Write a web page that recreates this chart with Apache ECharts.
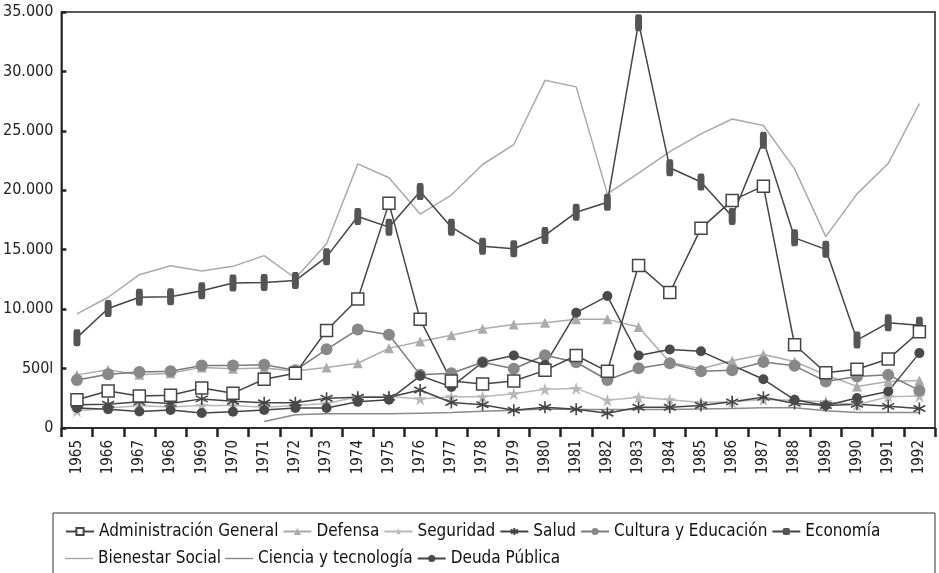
<!DOCTYPE html>
<html>
<head>
<meta charset="utf-8">
<script src="https://cdn.jsdelivr.net/npm/echarts@6/dist/echarts.min.js"></script>
<style>
  html, body { margin: 0; padding: 0; background: #fff; }
  #container { width: 939px; height: 573px; }
</style>
</head>
<body>
<div id="container"></div>
<script>
let years = [];
for (let y = 1965; y <= 1992; y++) years.push(String(y));

let yTickLabels = ['0', '500l', '10.000', '15.000', '20.000', '25.000', '30.000', '35.000'];

let admin     = [2370,3120,2700,2750,3360,2930,4100,4600,8200,10860,18900,9140,3960,3710,3960,4850,6100,4770,13680,11400,16800,19150,20350,7000,4650,4950,5800,8100];
let defensa   = [4470,4900,4470,4600,5100,4980,5050,4800,5100,5450,6700,7270,7800,8350,8710,8850,9140,9140,8500,5530,4980,5660,6180,5600,4470,3500,3910,4000];
let seguridad = [1440,1690,1870,1770,1890,1890,1740,1890,2070,2630,2650,2450,2630,2630,2880,3260,3330,2330,2580,2370,2150,2200,2400,2330,2200,1950,2630,2700];
let salud     = [1950,2000,2200,2070,2450,2250,2120,2120,2500,2580,2580,3200,2150,1950,1500,1740,1570,1240,1740,1740,1890,2200,2580,2070,1890,2000,1820,1640];
let cultura   = [4040,4520,4720,4770,5260,5260,5320,4850,6620,8280,7850,4470,4600,5530,4980,6120,5530,4040,5030,5440,4770,4850,5550,5230,3920,4340,4470,3160];
let economia  = [7600,10050,11000,11050,11550,12200,12250,12400,14400,17800,16900,19900,16900,15300,15080,16200,18150,19000,34100,21900,20700,17800,24200,16000,15030,7400,8850,8650];
let bienestar = [9600,11000,12900,13650,13200,13600,14500,12600,15500,22220,21050,18000,19600,22170,23850,29250,28700,19700,21450,23250,24750,26000,25450,21800,16100,19700,22250,27300];
let ciencia   = [null,null,null,null,null,null,550,1110,1190,1200,1200,1250,1300,1400,1500,1600,1550,1550,1550,1550,1600,1650,1700,1700,1450,1300,1300,1300];
let deuda     = [1690,1570,1390,1520,1260,1360,1520,1690,1690,2200,2370,4390,3460,5530,6100,5320,9700,11100,6100,6600,6450,null,4100,2370,1890,2520,3080,6300];

let FONT = '"Liberation Sans Narrow", "DejaVu Sans Condensed", "Liberation Sans", sans-serif';

let starPath = 'path://M5,0L6.18,3.82L10,3.82L6.9,6.18L8.09,10L5,7.64L1.91,10L3.1,6.18L0,3.82L3.82,3.82Z';
let asteriskPath = 'path://M5,0L5,10M0.67,2.5L9.33,7.5M0.67,7.5L9.33,2.5';
let lineIcon = 'path://M0,0L28,0L28,1.4L0,1.4Z';

function mk(name, data, lineColor, symbol, size, itemStyle) {
    return {
        name: name,
        type: 'line',
        data: data,
        connectNulls: true,
        symbol: symbol || 'none',
        symbolSize: size,
        showSymbol: !!symbol,
        lineStyle: { color: lineColor, width: 1.5 },
        itemStyle: itemStyle || { color: lineColor },
        emphasis: { disabled: true },
        animation: false
    };
}

let series = [
    mk('Bienestar Social', bienestar, '#a9a9a9'),
    mk('Ciencia y tecnología', ciencia, '#8a8a8a'),
    mk('Defensa', defensa, '#ababab', 'triangle', 10, { color: '#ababab' }),
    mk('Seguridad', seguridad, '#b8b8b8', starPath, 13, { color: '#b8b8b8' }),
    mk('Salud', salud, '#444', asteriskPath, 12, { color: '#444', borderColor: '#444', borderWidth: 1.6 }),
    mk('Cultura y Educación', cultura, '#7a7a7a', 'circle', 12, { color: '#888' }),
    mk('Deuda Pública', deuda, '#444', 'circle', 10, { color: '#4a4a4a' }),
    mk('Economía', economia, '#444', 'roundRect', [7, 17], { color: '#555' }),
    mk('Administración General', admin, '#444', 'rect', 12, { color: '#fff', borderColor: '#444', borderWidth: 1.5 })
];

let chart = echarts.init(document.getElementById('container'));

let legendText = { fontFamily: FONT, fontSize: 17, color: '#111' };
let legendBase = {
    itemWidth: 28, itemHeight: 9, itemGap: 4,
    textStyle: legendText,
    selectedMode: false
};

chart.setOption({
    animation: false,
    backgroundColor: '#fff',
    grid: {
        left: 58, right: 4, top: 12, bottom: 145,
        show: true, borderColor: '#222', borderWidth: 1.5
    },
    xAxis: {
        type: 'category',
        data: years,
        boundaryGap: true,
        axisLine: { lineStyle: { color: '#222', width: 1.5 } },
        axisTick: { show: true, length: 9, lineStyle: { color: '#222', width: 2.5 } },
        axisLabel: { rotate: 90, fontFamily: FONT, fontSize: 15, color: '#222', margin: 12 }
    },
    yAxis: {
        type: 'value',
        min: 0, max: 35000, interval: 5000,
        splitLine: { show: false },
        axisLine: { show: true, lineStyle: { color: '#222', width: 1.5 } },
        axisTick: { show: true, inside: true, length: 5, lineStyle: { color: '#222', width: 2.5 } },
        axisLabel: {
            fontFamily: FONT, fontSize: 16, color: '#222', margin: 8,
            formatter: (v) => yTickLabels[Math.round(v / 5000)]
        }
    },
    legend: [Object.assign({}, legendBase, {
        left: 60, top: 518,
        data: ['Administración General', 'Defensa', 'Seguridad', 'Salud', 'Cultura y Educación', 'Economía']
    }), Object.assign({}, legendBase, {
        left: 60, top: 545,
        data: [
            { name: 'Bienestar Social', icon: lineIcon },
            { name: 'Ciencia y tecnología', icon: lineIcon },
            'Deuda Pública'
        ]
    })],
    graphic: [{
        type: 'rect',
        shape: { x: 53, y: 513, width: 882, height: 80 },
        style: { fill: 'none', stroke: '#333', lineWidth: 1 },
        silent: true
    }],
    series: series
});
</script>
</body>
</html>
